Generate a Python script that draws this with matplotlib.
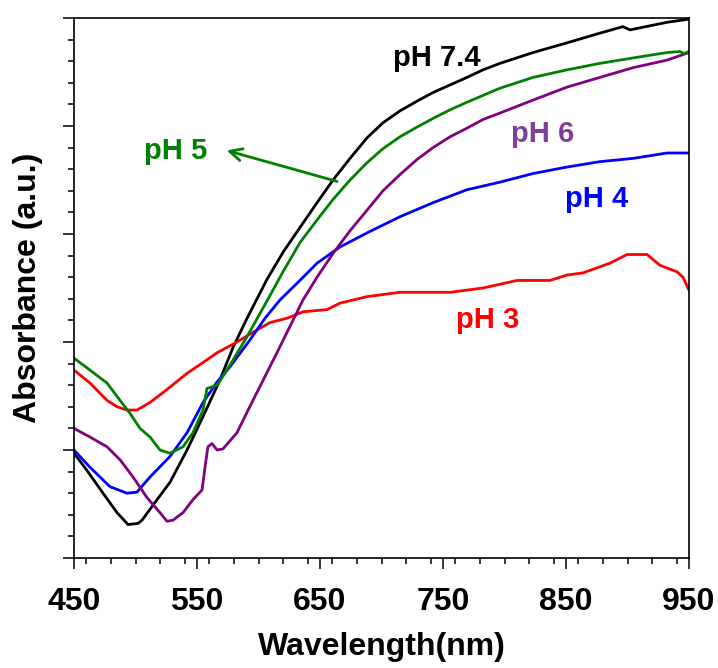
import matplotlib
matplotlib.use("Agg")
import matplotlib.pyplot as plt
from matplotlib.ticker import MultipleLocator, NullFormatter

plt.rcParams['font.family'] = ['Liberation Sans', 'DejaVu Sans']
plt.rcParams['font.weight'] = 'bold'

# ---- data ----
wl_ph74 = [450.0, 460.6, 473.6, 485.0, 493.9, 502.0, 505.3, 517.5, 528.0, 541.9, 554.9, 568.7,
           579.3, 590.7, 606.9, 619.9, 633.7, 647.6, 660.6, 674.4, 688.2, 701.2, 715.0, 728.9,
           741.9, 755.7, 769.5, 782.5, 796.3, 823.2, 850.8, 877.6, 896.3, 902.0, 932.1, 950.0]
ab_ph74 = [0.97, 0.81, 0.60, 0.42, 0.31, 0.32, 0.35, 0.54, 0.70, 1.00, 1.31, 1.65,
           1.95, 2.22, 2.58, 2.83, 3.06, 3.29, 3.50, 3.70, 3.89, 4.03, 4.14, 4.23,
           4.31, 4.38, 4.45, 4.52, 4.58, 4.68, 4.77, 4.86, 4.92, 4.89, 4.96, 4.99]

wl_ph5 = [450.0, 463.0, 476.8, 487.4, 495.5, 503.7, 511.8, 519.9, 528.0, 538.6, 546.7, 554.9,
          558.1, 566.3, 574.4, 590.7, 609.3, 619.9, 633.7, 647.6, 660.6, 674.4, 688.2, 701.2,
          715.0, 728.9, 741.9, 755.7, 769.5, 796.3, 823.2, 850.8, 877.6, 904.5, 932.1, 942.7,
          945.9, 950.0]
ab_ph5 = [1.85, 1.74, 1.62, 1.46, 1.34, 1.20, 1.12, 1.00, 0.97, 1.03, 1.16, 1.37,
          1.57, 1.60, 1.74, 2.05, 2.43, 2.65, 2.92, 3.13, 3.32, 3.50, 3.66, 3.79,
          3.90, 3.99, 4.07, 4.15, 4.22, 4.35, 4.45, 4.52, 4.58, 4.63, 4.68, 4.69,
          4.67, 4.69]

wl_ph4 = [450.0, 463.0, 479.3, 493.1, 501.2, 511.8, 528.0, 541.9, 554.9, 566.3, 576.8, 593.1,
          605.3, 617.5, 633.7, 647.6, 666.3, 688.2, 715.0, 741.9, 769.5, 796.3, 823.2, 850.8,
          877.6, 904.5, 932.1, 950.0]
ab_ph4 = [1.00, 0.84, 0.66, 0.60, 0.61, 0.75, 0.94, 1.16, 1.44, 1.63, 1.77, 2.02,
          2.22, 2.39, 2.57, 2.73, 2.88, 3.01, 3.16, 3.29, 3.41, 3.48, 3.56, 3.62,
          3.67, 3.70, 3.75, 3.75]

wl_ph6 = [450.0, 463.0, 476.8, 487.4, 498.0, 509.3, 519.9, 525.6, 530.5, 538.6, 546.7, 554.1,
          556.5, 558.9, 562.2, 566.3, 571.1, 582.5, 595.5, 615.0, 636.2, 647.6, 660.6, 674.4,
          688.2, 701.2, 715.0, 728.9, 741.9, 755.7, 769.5, 782.5, 796.3, 823.2, 850.8, 877.6,
          904.5, 932.1, 950.0]
ab_ph6 = [1.20, 1.12, 1.03, 0.91, 0.75, 0.56, 0.42, 0.34, 0.35, 0.42, 0.54, 0.63,
          0.84, 1.03, 1.06, 1.00, 1.01, 1.16, 1.46, 1.90, 2.39, 2.60, 2.82, 3.03,
          3.22, 3.40, 3.55, 3.69, 3.80, 3.90, 3.98, 4.06, 4.12, 4.24, 4.36, 4.45,
          4.54, 4.61, 4.68]

wl_ph3 = [450.0, 463.0, 476.8, 485.0, 493.1, 501.2, 511.8, 525.6, 541.9, 554.9, 566.3, 582.5,
          595.5, 609.3, 623.2, 636.2, 655.7, 666.3, 688.2, 715.0, 755.7, 782.5, 810.2, 837.0,
          850.8, 863.8, 885.8, 899.6, 915.9, 926.4, 940.2, 945.1, 950.0]
ab_ph3 = [1.74, 1.62, 1.46, 1.40, 1.37, 1.37, 1.44, 1.56, 1.71, 1.81, 1.90, 2.00,
          2.09, 2.18, 2.22, 2.28, 2.30, 2.36, 2.42, 2.46, 2.46, 2.50, 2.57, 2.57,
          2.62, 2.64, 2.73, 2.81, 2.81, 2.71, 2.65, 2.60, 2.48]

x_ticks = [450, 550, 650, 750, 850, 950]

# ---- figure ----
fig = plt.figure(figsize=(7.18, 6.68), dpi=100)
ax = fig.add_axes([74/718, 1 - 558/668, (689-74)/718, (558-18)/668])

lw = 2.0
ax.plot(wl_ph74, ab_ph74, color='black', lw=lw)
ax.plot(wl_ph3, ab_ph3, color='#ff0000', lw=lw)
ax.plot(wl_ph4, ab_ph4, color='#0000ff', lw=lw)
ax.plot(wl_ph6, ab_ph6, color='#800080', lw=lw)
ax.plot(wl_ph5, ab_ph5, color='#008000', lw=lw)

ax.set_xlim(450, 950)
ax.set_ylim(0, 5)
ax.set_xticks(x_ticks)
ax.set_xticklabels([str(t) for t in x_ticks])
ax.xaxis.set_minor_locator(MultipleLocator(20))
ax.yaxis.set_major_locator(MultipleLocator(1))
ax.yaxis.set_minor_locator(MultipleLocator(0.2))
ax.yaxis.set_major_formatter(NullFormatter())

ax.tick_params(which='major', direction='out', length=8, width=1.1, labelsize=23, pad=13)
ax.tick_params(which='minor', direction='out', length=4.5, width=1.1)
ax.tick_params(top=False, right=False)
for lab in ax.get_xticklabels():
    lab.set_fontweight('bold')
for sp in ax.spines.values():
    sp.set_linewidth(1.2)

ax.set_xlabel('Wavelength(nm)', fontsize=23, fontweight='bold', labelpad=11)
ax.set_ylabel('Absorbance (a.u.)', fontsize=23, fontweight='bold', labelpad=1)

fs = 21
ax.text(745, 4.56, 'pH 7.4', color='black', fontsize=fs, fontweight='bold', ha='center', va='baseline')
ax.text(831, 3.85, 'pH 6', color='#7f3f98', fontsize=fs, fontweight='bold', ha='center', va='baseline')
ax.text(875, 3.25, 'pH 4', color='#0000ff', fontsize=fs, fontweight='bold', ha='center', va='baseline')
ax.text(786, 2.13, 'pH 3', color='#ff0000', fontsize=fs, fontweight='bold', ha='center', va='baseline')
ax.text(533, 3.69, 'pH 5', color='#008000', fontsize=fs, fontweight='bold', ha='center', va='baseline')

ax.annotate('', xy=(572, 3.78), xytext=(666, 3.48),
            arrowprops=dict(arrowstyle='->', color='#008000', lw=2.0, mutation_scale=22))

fig.savefig('out.png', dpi=100)
